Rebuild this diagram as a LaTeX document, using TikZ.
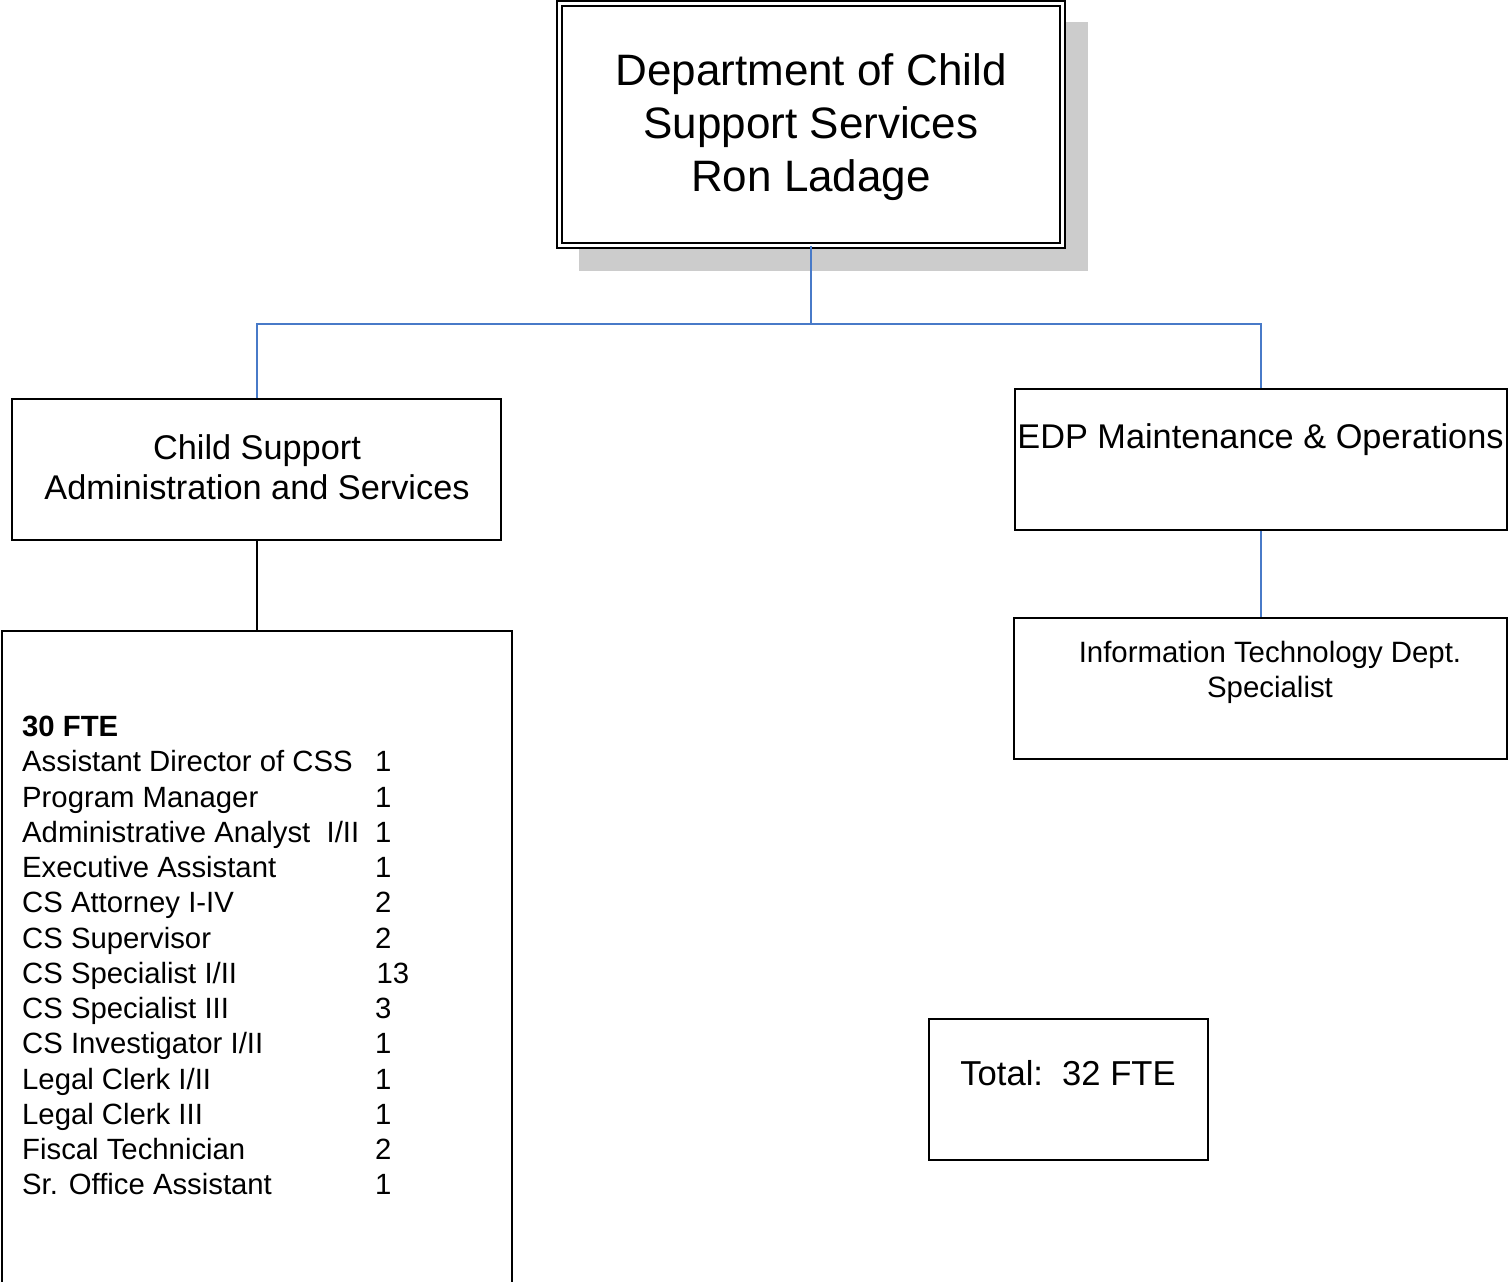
\documentclass[tikz,border=0pt]{standalone}
\usepackage{fontspec}
\setmainfont{Liberation Sans}
\definecolor{shadowgray}{HTML}{CCCCCC}
\definecolor{linkblue}{RGB}{72,122,200}
\begin{document}
\begin{tikzpicture}[x=1pt,y=-1pt,
  box/.style={draw=black,line width=1.5pt,fill=white,rectangle,inner sep=0pt},
  shadowbox/.style={fill=shadowgray,rectangle,inner sep=0pt,draw=none},
  topbox/.style={draw=black,double=white,line width=1.5pt,double distance=3.5pt,fill=white,rectangle,inner sep=0pt},
  bluelink/.style={draw=linkblue,line width=2pt},
  blacklink/.style={draw=black,line width=2pt},
  txt/.style={anchor=base,inner sep=0pt},
  ltxt/.style={anchor=base west,inner sep=0pt,font=\fontsize{29.3}{35}\selectfont},
  bigfont/.style={font=\fontsize{44}{53}\selectfont},
  midfont/.style={font=\fontsize{34.3}{41}\selectfont},
  smallfont/.style={font=\fontsize{29.4}{36}\selectfont}
]
\useasboundingbox (0,0) rectangle (1508,1282);
\begin{scope}
\clip (0,0) rectangle (1508,1282);

% shadow and top box
\node[shadowbox,minimum width=509pt,minimum height=249pt] (shadow) at (833.5,146.5) {};
\node[topbox,minimum width=503pt,minimum height=242pt] (top) at (811,124.5) {};

% bus coordinate
\coordinate (busM) at (811,324);

% boxes
\node[box,minimum width=489pt,minimum height=141pt] (csa) at (256.5,469.5) {};
\node[box,minimum width=492pt,minimum height=141pt] (edp) at (1261,459.5) {};
\node[box,minimum width=493pt,minimum height=141pt] (it) at (1260.5,688.5) {};
\node[box,minimum width=279pt,minimum height=141pt] (total) at (1068.5,1089.5) {};
\node[box,minimum width=510pt,minimum height=669pt] (list) at (257,965.5) {};

% connectors
\draw[bluelink] (top.south) -- (busM);
\draw[bluelink] (csa.north) |- (busM);
\draw[bluelink] (edp.north) |- (busM);
\draw[blacklink] (csa.south) -- (csa.south |- list.north);
\draw[bluelink] (edp.south) -- (edp.south |- it.north);

% top box text
\node[txt,bigfont] (t1) at (811,85) {Department of Child};
\node[txt,bigfont] (t2) at (811,138) {Support Services};
\node[txt,bigfont] (t3) at (811,191) {Ron Ladage};

% csa text
\node[txt,midfont] (c1) at (257,459) {Child Support};
\node[txt,midfont] (c2) at (257,499) {Administration and Services};

% edp text
\node[txt,midfont] (e1) at (1260.5,448.5) {EDP Maintenance \& Operations};

% it text
\node[txt,smallfont] (i1) at (1270,662) {Information Technology Dept.};
\node[txt,smallfont] (i2) at (1270,697) {Specialist};

% total text
\node[txt,font=\fontsize{34.6}{41}\selectfont] (tot) at (1068,1085) {Total:\ \ 32 FTE};

% list
\node[ltxt,font=\fontsize{29.3}{35}\selectfont\bfseries] (h) at (22,736.7) {30 FTE};
\node[ltxt] (r1) at (22,771.9) {Assistant Director of CSS};
\node[ltxt] (n1) at (375,771.9) {1};
\node[ltxt] (r2) at (22,807.2) {Program Manager};
\node[ltxt] (n2) at (375,807.2) {1};
\node[ltxt] (r3) at (22,842.4) {Administrative Analyst\ \ I/II};
\node[ltxt] (n3) at (375,842.4) {1};
\node[ltxt] (r4) at (22,877.7) {Executive Assistant};
\node[ltxt] (n4) at (375,877.7) {1};
\node[ltxt] (r5) at (22,912.9) {CS Attorney I-IV};
\node[ltxt] (n5) at (375,912.9) {2};
\node[ltxt] (r6) at (22,948.2) {CS Supervisor};
\node[ltxt] (n6) at (375,948.2) {2};
\node[ltxt] (r7) at (22,983.4) {CS Specialist I/II};
\node[ltxt] (n7) at (376.5,983.4) {13};
\node[ltxt] (r8) at (22,1018.7) {CS Specialist III};
\node[ltxt] (n8) at (375,1018.7) {3};
\node[ltxt] (r9) at (22,1053.9) {CS Investigator I/II};
\node[ltxt] (n9) at (375,1053.9) {1};
\node[ltxt] (r10) at (22,1089.2) {Legal Clerk I/II};
\node[ltxt] (n10) at (375,1089.2) {1};
\node[ltxt] (r11) at (22,1124.4) {Legal Clerk III};
\node[ltxt] (n11) at (375,1124.4) {1};
\node[ltxt] (r12) at (22,1159.7) {Fiscal Technician};
\node[ltxt] (n12) at (375,1159.7) {2};
\node[ltxt] (r13) at (22,1194.9) {Sr. Office Assistant};
\node[ltxt] (n13) at (375,1194.9) {1};
\end{scope}
\end{tikzpicture}
\end{document}
